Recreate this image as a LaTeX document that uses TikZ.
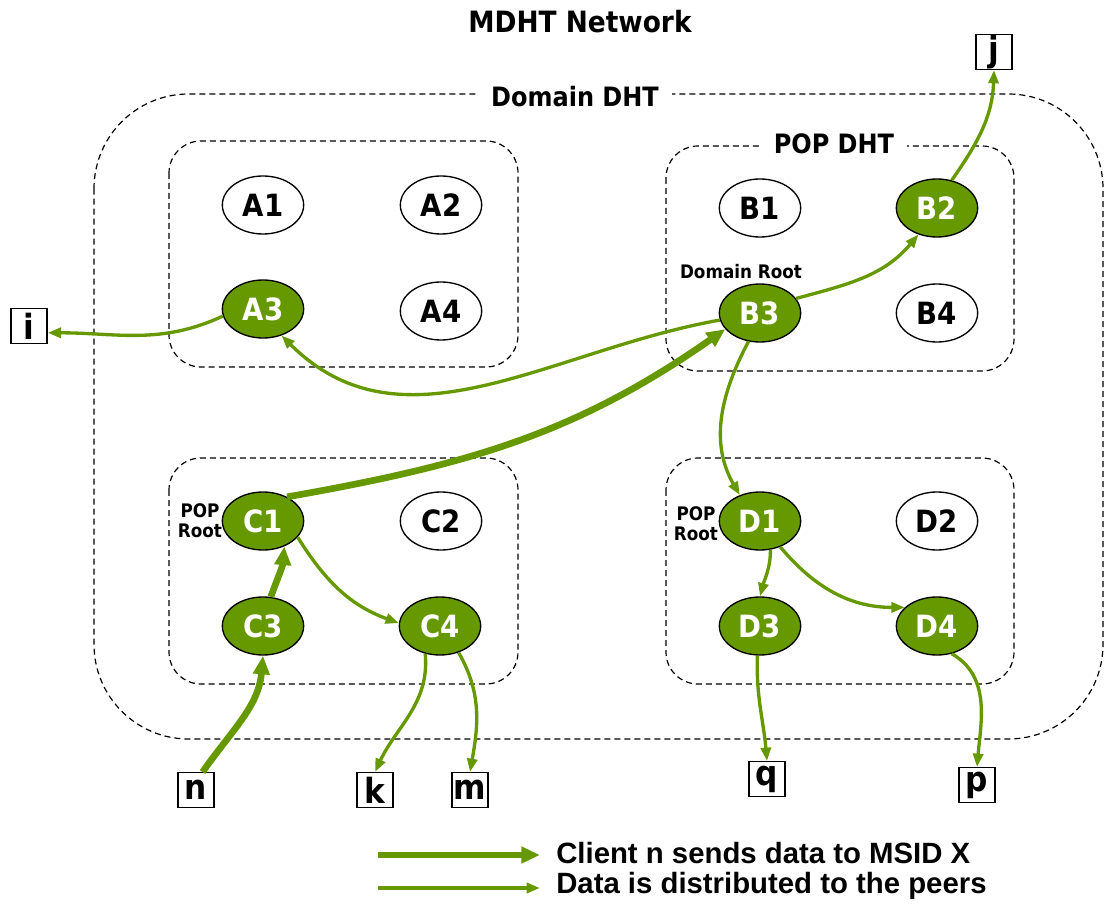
\documentclass[tikz,border=0pt]{standalone}
\usepackage{fontspec}
\setmainfont{DejaVu Sans Condensed}
\newfontfamily\legendfont{Liberation Sans}
\usepackage{tikz}
\usetikzlibrary{arrows.meta,positioning,shapes.geometric}
\definecolor{Leaf}{HTML}{669900}
\definecolor{Ink}{HTML}{000000}
\tikzset{
  peer/.style={ellipse,draw=Ink,fill=white,line width=1pt,minimum width=61pt,minimum height=43.5pt,inner sep=0pt,font=\fontsize{23}{23}\selectfont\bfseries},
  hot/.style={peer,fill=Leaf,text=white},
  client/.style={rectangle,draw=Ink,fill=white,line width=1pt,minimum width=27pt,minimum height=26pt,inner sep=0pt,font=\fontsize{26}{26}\selectfont\bfseries},
  zone/.style={draw=Ink,dash pattern=on 4.5pt off 3pt,line width=.9pt},
  tag/.style={fill=white,inner xsep=10pt,inner ysep=2pt,font=\fontsize{20}{20}\selectfont\bfseries},
  rootnote/.style={align=center,inner sep=0pt,font=\fontsize{14}{15}\selectfont\bfseries},
  push/.style={-{Triangle[length=14pt,width=12pt]},draw=Leaf,line width=5pt},
  spread/.style={-{Triangle[length=10pt,width=7.5pt]},draw=Leaf,line width=2.5pt},
  legendtext/.style={anchor=west,inner ysep=0pt,inner xsep=12pt,font=\legendfont\fontsize{22}{22}\selectfont\bfseries}
}
\begin{document}
\begin{tikzpicture}[x=.75pt,y=-.75pt]
  \useasboundingbox (0,0) rectangle (1107,905);
  \node[font=\fontsize{22}{22}\selectfont\bfseries] (title) at (580,22) {MDHT Network};

  \draw[zone,rounded corners=71pt] (94,94) rectangle (1103,739);
  \draw[zone,rounded corners=24pt] (169,141) rectangle (518,367);
  \draw[zone,rounded corners=24pt] (666,146) rectangle (1014,371);
  \draw[zone,rounded corners=24pt] (169,458) rectangle (518,684);
  \draw[zone,rounded corners=24pt] (666,458) rectangle (1014,684);
  \node[tag] (domain) at (575,97) {Domain DHT};
  \node[tag] (popdht) at (834,144) {POP DHT};

  \node[peer] (A1) at (263,205) {A1};
  \node[peer] (A2) at (441,205) {A2};
  \node[hot]  (A3) at (263,309) {A3};
  \node[peer] (A4) at (441,311) {A4};
  \node[peer] (B1) at (760,208) {B1};
  \node[hot]  (B2) at (937,208) {B2};
  \node[hot]  (B3) at (760,313) {B3};
  \node[peer] (B4) at (937,313) {B4};
  \node[hot]  (C1) at (263,521) {C1};
  \node[peer] (C2) at (441,521) {C2};
  \node[hot]  (C3) at (263,626) {C3};
  \node[hot]  (C4) at (440,626) {C4};
  \node[hot]  (D1) at (760,521) {D1};
  \node[peer] (D2) at (937,521) {D2};
  \node[hot]  (D3) at (760,626) {D3};
  \node[hot]  (D4) at (937,626) {D4};

  \node[rootnote] (droot) at (741,272) {Domain Root};
  \node[rootnote] (croot) at (200,521) {POP\\Root};
  \node[rootnote] (dnote) at (696,524) {POP\\Root};

  \node[client] (i) at (29,326) {i};
  \node[client] (j) at (994,52) {j};
  \node[client] (n) at (196,790) {n};
  \node[client] (k) at (375,790) {k};
  \node[client] (m) at (470,790) {m};
  \node[client] (q) at (767,779) {q};
  \node[client] (p) at (977,785) {p};

  \draw[push] (n.70) to[out=55,in=-95] (C3.south);
  \draw[push] (C3.75) to[out=70,in=-95] (C1.-50);
  \draw[push] (C1.45) to[out=10,in=215] (B3.205);

  \draw[spread] (B3.190) to[out=190,in=-45] (A3.-55);
  \draw[spread] (A3.190) to[out=205,in=0] (i.-20);
  \draw[spread] (B3.22) to[out=15,in=-130] (B2.-125);
  \draw[spread] (B2.62) to[out=55,in=-92] (j.south);
  \draw[spread] (B3.-112) to[out=-118,in=120] (D1.128);
  \draw[spread] (C1.-25) to[out=-58,in=160] (C4.176);
  \draw[spread] (C4.-118) to[out=-85,in=65] (k.north);
  \draw[spread] (C4.-55) to[out=-60,in=80] (m.north);
  \draw[spread] (D1.-70) to[out=-90,in=75] (D3.north);
  \draw[spread] (D1.-52) to[out=-50,in=180] (D4.150);
  \draw[spread] (D3.-95) to[out=-92,in=95] (q.north);
  \draw[spread] (D4.-62) to[out=-30,in=85] (p.north);

  \coordinate (lgA) at (378,855);
  \coordinate (lgB) at (378,888);
  \node[legendtext] (legA) at (540,853) {Client n sends data to MSID X};
  \node[legendtext] (legB) at (540,886) {Data is distributed to the peers};
  \draw[push] (lgA) -- (legA.west |- lgA);
  \draw[spread] (lgB) -- (legB.west |- lgB);
\end{tikzpicture}
\end{document}
